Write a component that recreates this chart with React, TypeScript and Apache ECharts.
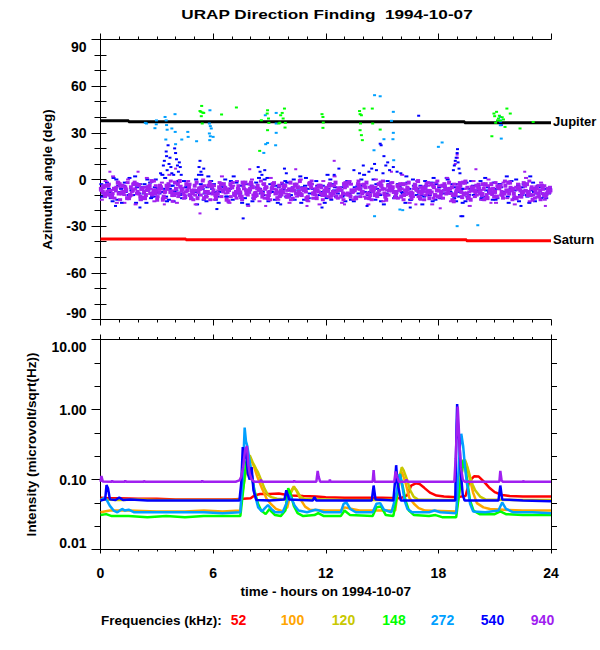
import React, { useEffect, useRef } from "react";
import * as echarts from "echarts";

// ---------- Top panel: azimuthal angle (deg) ----------
const JUPITER: number[][] = [[0, 37.8], [1.5, 37.1], [19.4, 36.5], [24, 36.5]];
const SATURN: number[][] = [[0, -38.2], [4.55, -38.7], [19.5, -39.3], [24, -39.3]];

// dense 940 kHz / 540 kHz direction-finding cloud, sampled every BAND_STEP_H hours
const BAND_STEP_H = 0.2;
const PURPLE_A_T0 = 0.02;
const PURPLE_A = [
  -6, -9, -4, -11, -7, -3, -8, -12, -5, -2, -9, -6, -10, -4, -7, -13, -5, -8, -3, -10,
  -6, -1, -9, -7, -12, -4, -8, -5, -11, -2, -7, -9, -3, -6, -14, -5, -8, -10, -4, -7,
  -2, -9, -6, -11, -5, -8, -3, -12, -7, -4, -10, -6, -9, -1, -7, -13, -5, -8, -4, -10,
  -6, -3, -9, -7, -11, -5, -2, -8, -12, -6, -4, -9, -7, -10, -3, -6, -13, -5, -8, -4,
  -11, -7, -2, -9, -6, -12, -5, -8, -3, -10, -7, -4, -9, -6, -14, -5, -8, -2, -11, -7,
  -4, -9, -6, -12, -3, -8, -5, -10, -7, -2, -9, -6, -11, -4, -8, -13, -5, -7, -10, -6,
];
const PURPLE_B_T0 = 0.12;
const PURPLE_B = [
  -8, -4, -10, -6, -2, -9, -5, -12, -7, -3, -11, -8, -5, -1, -9, -6, -13, -4, -8, -10,
  -3, -7, -11, -5, -9, -2, -6, -12, -8, -4, -10, -5, -7, -13, -3, -9, -6, -11, -2, -8,
  -5, -10, -7, -3, -12, -6, -9, -4, -8, -11, -2, -7, -5, -10, -6, -3, -9, -12, -4, -8,
  -7, -10, -2, -6, -9, -4, -11, -7, -3, -8, -5, -12, -6, -10, -2, -9, -4, -7, -11, -6,
  -3, -8, -10, -5, -1, -9, -6, -12, -4, -7, -11, -3, -8, -5, -10, -6, -2, -9, -13, -7,
  -5, -10, -3, -8, -6, -11, -4, -9, -2, -7, -12, -5, -8, -3, -10, -6, -9, -4, -11, -8,
];
const PURPLE_C_T0 = 0.07;
const PURPLE_C = [
  -13, -1, -7, 2, -15, -5, -10, 0, -8, -16, -3, -11, 1, -6, -14, -9, -2, -12, 3, -7,
  -15, -4, -10, -1, -8, -16, -5, 0, -11, -3, -13, -7, 2, -9, -15, -4, -1, -12, -6, -17,
  0, -8, -14, -3, -10, 1, -6, -13, -2, -9, -15, -5, -11, 0, -7, -14, -3, -10, -16, -1,
  -8, -12, 2, -5, -15, -9, -1, -13, -6, -3, -11, -16, -4, 0, -9, -14, -7, -2, -12, -5,
  3, -10, -15, -6, -1, -13, -8, -4, -16, -2, -11, -7, 1, -14, -9, -3, -12, -6, -17, -1,
  -8, -13, -4, 0, -10, -15, -5, -2, -12, -7, -16, -3, -9, 1, -14, -6, -11, -2, -13, -8,
];
const PURPLE_D_T0 = 0.17;
const PURPLE_D = [
  -5, -8, -11, -6, -9, -4, -7, -10, -3, -8, -6, -12, -5, -9, -7, -4, -11, -6, -8, -2,
  -9, -6, -3, -10, -7, -12, -5, -8, -4, -9, -11, -6, -3, -8, -5, -10, -7, -2, -9, -6,
  -12, -4, -8, -6, -10, -3, -7, -9, -5, -11, -7, -4, -8, -6, -12, -3, -9, -7, -5, -10,
  -4, -8, -11, -6, -3, -9, -7, -12, -5, -8, -2, -10, -6, -9, -4, -11, -7, -5, -8, -3,
  -10, -6, -12, -4, -8, -7, -3, -9, -5, -11, -8, -6, -2, -10, -7, -4, -9, -12, -5, -8,
  -6, -3, -10, -7, -11, -5, -8, -4, -9, -6, -12, -7, -3, -10, -5, -8, -11, -6, -9, -7,
];
const PURPLE_E_T0 = 0.045;
const PURPLE_E = [
  -7, -11, -3, -9, -5, -13, -8, -2, -10, -6, -4, -12, -7, -9, -1, -11, -6, -8, -4, -14,
  -9, -5, -12, -3, -7, -10, -6, -1, -8, -13, -4, -9, -11, -5, -7, -2, -12, -8, -6, -10,
  -3, -11, -7, -9, -5, -13, -2, -8, -10, -4, -6, -12, -3, -9, -7, -11, -1, -6, -8, -13,
  -5, -9, -4, -12, -7, -2, -10, -8, -6, -11, -3, -9, -13, -5, -7, -1, -10, -4, -8, -12,
  -6, -3, -9, -11, -7, -5, -13, -2, -8, -10, -4, -12, -6, -9, -3, -7, -11, -1, -8, -5,
  -10, -7, -13, -4, -9, -2, -6, -12, -8, -5, -11, -3, -9, -7, -1, -10, -6, -13, -4, -8,
];
const PURPLE_F_T0 = 0.145;
const PURPLE_F = [
  -4, -10, -7, -12, -2, -8, -6, -11, -3, -9, -13, -5, -7, -10, -4, -8, -12, -6, -1, -9,
  -11, -6, -8, -3, -13, -7, -10, -4, -9, -5, -12, -2, -8, -6, -11, -9, -4, -13, -7, -3,
  -10, -6, -1, -12, -8, -5, -9, -11, -4, -7, -13, -3, -10, -6, -8, -2, -12, -5, -9, -7,
  -11, -4, -8, -6, -13, -10, -3, -7, -1, -9, -12, -5, -8, -11, -4, -6, -10, -2, -9, -7,
  -13, -5, -8, -3, -11, -6, -10, -7, -12, -1, -9, -4, -6, -13, -8, -2, -10, -5, -7, -11,
  -3, -9, -12, -6, -8, -4, -10, -1, -7, -13, -5, -11, -2, -8, -6, -12, -4, -9, -10, -5,
];
const PURPLE_EXTRA: number[][] = [
  [5.3, -21.8], [18.1, -18.5], [2.0, 5], [0.5, 5], [7.95, 6.6], [10.4, 6.6], [12.45, 12],
  [20.0, 6.6], [19.0, 16], [19.02, 14], [18.9, 10], [4.0, 7], [15.5, 5], [22.6, 5],
  [23.7, -17], [13.0, -16], [8.8, -17], [1.3, -15], [3.4, -16], [16.8, -16], [20.8, -15], [11.0, -17],
];
const BLUE_A_T0 = 0.045;
const BLUE_A = [
  -3, -10, -6, -14, 0, -8, -4, -12, -7, 2, -9, -5, -15, -2, -11, -6, -8, 1, -13, -4,
  -7, -10, -1, -5, -12, -8, 3, -6, -14, -9, -3, -11, -5, 0, -7, -13, -2, -9, -6, -16,
  -4, -10, 1, -8, -12, -3, -6, -15, -7, -1, -11, -5, -9, 2, -13, -6, -3, -10, -8, -4,
  -12, 0, -7, -9, -5, -14, -2, -8, -11, -6, 3, -10, -4, -13, -7, -1, -9, -5, -12, -3,
  -8, -15, -6, 0, -10, -4, -11, -7, -2, -13, -5, -9, 1, -8, -12, -3, -6, -14, -10, -4,
  -7, -1, -11, -5, -9, -13, -3, -8, 2, -6, -12, -4, -10, -7, -15, -2, -9, -5, -11, -8,
];
const BLUE_B_T0 = 0.145;
const BLUE_B = [
  -9, -2, -12, -6, -4, -15, -8, 1, -10, -5, -13, -3, -7, -11, 0, -9, -6, -14, -4, -8,
  -1, -12, -5, -10, -7, -16, -3, -9, 2, -6, -13, -8, -4, -11, -1, -10, -6, -15, -3, -7,
  -12, -5, -9, 0, -14, -8, -4, -11, -6, -2, -10, -13, -7, -5, 1, -9, -12, -4, -8, -15,
  -6, -3, -11, -7, -10, -1, -13, -5, -9, -4, -12, -8, 0, -6, -14, -10, -3, -7, -11, -5,
  -9, -2, -13, -6, -8, -16, -4, -10, 1, -7, -12, -5, -9, -3, -14, -8, -6, -11, -1, -10,
  -4, -13, -7, -9, -2, -12, -5, -8, -15, -6, 0, -10, -3, -11, -7, -14, -4, -9, -12, -6,
];
const BLUE_C_T0 = 0.095;
const BLUE_C = [
  -11, -4, -8, 1, -13, -6, -2, -10, -7, -15, -3, -9, 0, -12, -5, -8, 3, -11, -6, -14,
  -2, -9, -12, -4, -7, 0, -10, -13, -5, -1, -8, -15, -3, -11, -6, 2, -9, -4, -12, -7,
  -14, -2, -6, -10, 1, -8, -13, -5, -3, -11, -7, 0, -9, -15, -4, -12, -6, -1, -10, -8,
  3, -13, -5, -7, -11, -2, -9, -14, -4, 0, -8, -12, -6, -3, -10, -16, -1, -7, -11, -5,
  -9, 2, -13, -4, -6, -10, -1, -8, -14, -3, -12, -7, 0, -9, -5, -11, -15, -2, -6, -10,
  -4, -12, 1, -8, -13, -6, -3, -9, -11, -1, -7, -14, -5, -10, 2, -8, -4, -12, -6, -9,
];
const BLUE_EXTRA: number[][] = [
  [3.35, 9], [3.4, 12], [3.5, 18], [3.52, 15], [3.55, 6], [3.6, 22], [3.65, 10], [3.7, 14],
  [3.75, 8], [3.8, 4], [3.95, 20], [4.0, 17], [4.05, 13], [4.1, 9], [4.15, 5], [4.25, 8],
  [4.3, 3], [4.2, 11], [5.25, 8], [5.3, 12], [5.35, 5], [5.4, 3], [5.5, 7],
  [8.4, 8], [8.5, 5], [8.6, 3], [8.75, 6], [9.8, 7], [9.9, 4], [12.7, 7], [12.45, 3],
  [13.5, 6], [13.8, 4], [14.0, 9], [14.3, 5], [14.6, 10], [14.7, 6], [14.9, 23], [14.95, 22],
  [15.1, 15], [15.2, 9], [15.3, 11], [15.4, 6], [15.6, 8], [15.8, 5], [16.0, 4], [15.05, 4],
  [14.45, 7], [16.95, 41], [18.8, 6], [18.85, 9], [18.9, 12], [18.95, 14], [19.0, 17],
  [19.02, 19.5], [19.05, 11], [19.1, 7], [19.15, 4], [7.6, -25], [19.2, -23.6], [19.3, -23.6],
  [11.8, -18], [6.2, -19], [2.1, -18], [16.5, -18], [22.4, -17], [14.2, -17], [9.6, -16],
  [0.8, -17], [21.3, 37], [21.35, 35], [3.2, 4], [3.9, 3],
];
const LIGHTBLUE_PTS: number[][] = [
  [2.39, 36.4], [2.45, 36], [2.97, 35.5], [2.98, 38], [2.9, 33], [3.44, 40.2], [3.5, 38],
  [3.52, 35], [3.55, 32], [3.97, 42], [3.98, 30.6], [3.8, 32.8], [4.65, 30.6], [4.67, 27.4],
  [3.48, 25.7], [4.0, 22.7], [4.33, 25.7], [5.12, 24.6], [5.83, 44.5], [5.8, 36], [5.85, 34.3],
  [5.9, 32.8], [5.8, 29.6], [5.85, 27.8], [6.0, 27.4], [5.82, 25.3], [8.78, 41.3], [9.36, 42.8],
  [9.36, 36], [9.36, 30], [8.9, 23.5], [8.8, 22.7], [8.7, 17.1], [9.33, 22], [14.6, 54.2],
  [14.9, 53.5], [15.6, 43.5], [15.5, 37.7], [15.6, 30], [15.58, 25.9], [15.1, 25.9],
  [14.57, 18.8], [15.62, 12.4], [18.0, 21], [18.2, 23.8], [21.3, 40.2], [21.32, 38],
  [21.3, 34.9], [21.35, 26.3], [15.95, -19.3], [14.6, -23.6], [19.0, -30], [20.1, -29.4],
  [16.1, -19.7],
];
const GREEN_PTS: number[][] = [
  [5.39, 47.3], [5.3, 44], [5.35, 43.5], [5.45, 43], [5.5, 42.8], [5.37, 40.7], [6.45, 41.8],
  [7.24, 46.3], [5.42, 36], [8.57, 38.1], [8.9, 44.5], [8.88, 42.4], [8.95, 39.2], [8.97, 36.4],
  [8.9, 31.7], [9.6, 41.3], [9.68, 42.8], [9.73, 39.2], [9.8, 45.6], [9.85, 36.4], [9.55, 36.5],
  [9.5, 36], [9.83, 33.4], [8.48, 18.4], [11.8, 42], [11.85, 40.2], [11.87, 36.6], [11.85, 33.2],
  [13.8, 44], [13.83, 42], [13.9, 41.3], [14.04, 45.6], [14.48, 45.6], [13.85, 36], [13.83, 31.7],
  [13.9, 28.5], [13.95, 25.3], [14.5, 36], [14.9, 32.1], [20.96, 42.4], [21.1, 43.5], [21.0, 40.7],
  [21.2, 39.2], [21.3, 37.7], [21.47, 38.6], [21.65, 45.6], [21.83, 42.4], [21.55, 33.8],
  [20.85, 27.8], [22.35, 32.8], [23.05, 37], [21.25, 41], [21.4, 40], [21.15, 38], [21.05, 36.5],
];

// ---------- Bottom panel: intensity (microvolt/sqrt(Hz)) ----------
const FREQ_KHZ = ["52", "100", "120", "148", "272", "540", "940"];
const FREQ_COLORS = ["#ff0000", "#ffa500", "#c8c800", "#00ff00", "#00a0ff", "#0000ff", "#a020f0"];

const I_52: number[][] = [
  [0, 0.055], [0.4, 0.054], [1.0, 0.054], [2.0, 0.053], [3.0, 0.053], [4.0, 0.052], [5.0, 0.052],
  [6.0, 0.052], [7.0, 0.052], [7.6, 0.053], [8.0, 0.054], [8.2, 0.059], [8.5, 0.062], [9.0, 0.062],
  [9.5, 0.063], [9.8, 0.061], [10.2, 0.059], [10.8, 0.058], [11.5, 0.057], [12.0, 0.056],
  [13.0, 0.055], [14.0, 0.055], [15.0, 0.055], [16.0, 0.054], [16.35, 0.06], [16.55, 0.082],
  [16.8, 0.088], [17.0, 0.086], [17.25, 0.076], [17.55, 0.065], [17.9, 0.059], [18.3, 0.057],
  [19.0, 0.056], [19.45, 0.058], [19.65, 0.095], [19.9, 0.111], [20.15, 0.11], [20.4, 0.095],
  [20.7, 0.077], [21.0, 0.066], [21.4, 0.06], [21.8, 0.058], [22.5, 0.057], [23.2, 0.057], [24, 0.057],
];
const I_100: number[][] = [
  [0, 0.034], [0.5, 0.036], [1.5, 0.036], [3, 0.035], [4.5, 0.035], [5.5, 0.036], [6.5, 0.035],
  [7.45, 0.036], [7.6, 0.08], [7.8, 0.17], [7.95, 0.21], [8.15, 0.16], [8.35, 0.11], [8.6, 0.075],
  [8.85, 0.053], [9.1, 0.044], [9.35, 0.038], [9.7, 0.035], [9.95, 0.04], [10.15, 0.068],
  [10.3, 0.08], [10.45, 0.068], [10.7, 0.05], [10.9, 0.041], [11.15, 0.037], [12.0, 0.036],
  [12.8, 0.036], [13.0, 0.04], [13.4, 0.038], [13.8, 0.036], [15.0, 0.036], [15.7, 0.036],
  [15.85, 0.07], [16.05, 0.13], [16.25, 0.09], [16.45, 0.055], [16.7, 0.045], [16.95, 0.039],
  [17.3, 0.036], [18.95, 0.035], [19.1, 0.06], [19.3, 0.16], [19.45, 0.18], [19.65, 0.11],
  [19.85, 0.065], [20.05, 0.046], [20.4, 0.04], [20.75, 0.038], [21.5, 0.037], [22.5, 0.036], [24, 0.036],
];
const I_120: number[][] = [
  [0, 0.052], [1, 0.051], [2, 0.052], [3, 0.051], [4, 0.051], [5, 0.051], [6, 0.051], [7, 0.051],
  [7.5, 0.052], [7.65, 0.09], [7.8, 0.16], [7.95, 0.222], [8.1, 0.178], [8.3, 0.14], [8.4, 0.125],
  [8.56, 0.098], [8.74, 0.074], [8.92, 0.06], [9.1, 0.056], [9.4, 0.053], [10.0, 0.052],
  [10.15, 0.065], [10.3, 0.078], [10.45, 0.07], [10.65, 0.057], [10.85, 0.053], [12, 0.052],
  [13, 0.051], [14, 0.051], [15, 0.051], [15.75, 0.052], [15.9, 0.1], [16.05, 0.15], [16.15, 0.135],
  [16.34, 0.098], [16.5, 0.07], [16.69, 0.0565], [16.9, 0.052], [18, 0.051], [19.0, 0.051],
  [19.15, 0.12], [19.3, 0.185], [19.42, 0.19], [19.55, 0.15], [19.69, 0.109], [19.82, 0.085],
  [19.96, 0.07], [20.22, 0.057], [20.5, 0.052], [22, 0.051], [24, 0.051],
];
const I_148: number[][] = [
  [0, 0.031], [0.3, 0.032], [0.6, 0.03], [1.5, 0.03], [2.5, 0.029], [3.5, 0.03], [4.5, 0.029],
  [5.5, 0.03], [6.5, 0.03], [7.45, 0.03], [7.6, 0.07], [7.75, 0.17], [7.85, 0.21], [7.95, 0.17],
  [8.05, 0.12], [8.2, 0.07], [8.39, 0.045], [8.56, 0.036], [8.8, 0.032], [9.0, 0.038], [9.1, 0.035],
  [9.3, 0.031], [9.6, 0.03], [9.85, 0.036], [10.0, 0.075], [10.15, 0.06], [10.3, 0.042], [10.5, 0.033],
  [10.8, 0.03], [11.4, 0.031], [11.6, 0.033], [11.9, 0.03], [12.8, 0.03], [13.0, 0.036], [13.3, 0.031],
  [14.5, 0.03], [14.7, 0.04], [14.95, 0.041], [15.2, 0.031], [15.6, 0.03], [15.75, 0.05], [15.95, 0.12],
  [16.1, 0.08], [16.25, 0.05], [16.43, 0.036], [16.7, 0.031], [17.5, 0.03], [17.85, 0.031],
  [18.2, 0.029], [18.95, 0.029], [19.15, 0.08], [19.34, 0.19], [19.45, 0.14], [19.55, 0.09],
  [19.69, 0.05], [19.87, 0.036], [20.2, 0.032], [21.0, 0.032], [21.3, 0.035], [21.6, 0.032],
  [22.5, 0.031], [24, 0.031],
];
const I_272: number[][] = [
  [0, 0.05], [0.2, 0.055], [0.35, 0.05], [0.5, 0.042], [0.7, 0.036], [0.9, 0.034], [1.15, 0.038],
  [1.3, 0.036], [1.5, 0.037], [1.8, 0.034], [3, 0.034], [4.5, 0.034], [5.5, 0.034], [6.5, 0.033],
  [7.45, 0.034], [7.58, 0.12], [7.68, 0.55], [7.75, 0.35], [7.82, 0.3], [7.9, 0.22], [7.98, 0.16],
  [8.1, 0.1], [8.21, 0.063], [8.4, 0.04], [8.6, 0.035], [8.8, 0.04], [8.92, 0.043], [9.1, 0.038],
  [9.3, 0.034], [9.7, 0.034], [9.9, 0.045], [10.05, 0.06], [10.2, 0.052], [10.35, 0.042],
  [10.55, 0.036], [11.0, 0.034], [11.45, 0.037], [11.65, 0.036], [11.9, 0.034], [12.8, 0.034],
  [12.95, 0.045], [13.1, 0.047], [13.3, 0.038], [13.6, 0.034], [14.5, 0.034], [14.7, 0.045],
  [14.9, 0.046], [15.1, 0.037], [15.5, 0.034], [15.75, 0.06], [15.95, 0.12], [16.08, 0.08],
  [16.2, 0.05], [16.35, 0.038], [16.6, 0.034], [17.5, 0.034], [17.8, 0.036], [18.1, 0.034],
  [18.95, 0.033], [19.05, 0.1], [19.15, 0.3], [19.22, 0.45], [19.32, 0.3], [19.42, 0.15],
  [19.52, 0.088], [19.69, 0.045], [19.85, 0.035], [20.5, 0.034], [21.2, 0.036], [21.4, 0.047],
  [21.6, 0.038], [22.0, 0.034], [23, 0.034], [24, 0.033],
];
const I_540: number[][] = [
  [0, 0.05], [0.25, 0.052], [0.32, 0.083], [0.4, 0.075], [0.5, 0.052], [0.8, 0.051], [1.0, 0.055],
  [1.2, 0.051], [1.6, 0.052], [2.5, 0.05], [4, 0.05], [5.5, 0.05], [6.5, 0.05], [7.4, 0.05],
  [7.5, 0.09], [7.58, 0.29], [7.66, 0.2], [7.75, 0.25], [7.85, 0.12], [7.95, 0.1], [8.05, 0.15],
  [8.15, 0.07], [8.3, 0.051], [9.0, 0.05], [9.8, 0.052], [9.9, 0.07], [10.05, 0.052], [11.3, 0.05],
  [11.4, 0.056], [11.5, 0.05], [14.45, 0.05], [14.55, 0.082], [14.65, 0.052], [15.6, 0.05],
  [15.7, 0.1], [15.75, 0.16], [15.82, 0.09], [15.9, 0.07], [16.0, 0.05], [18.9, 0.05],
  [18.97, 0.6], [19.0, 1.2], [19.05, 0.5], [19.12, 0.35], [19.2, 0.12], [19.3, 0.06], [19.4, 0.05],
  [21.2, 0.05], [21.3, 0.082], [21.4, 0.052], [22.5, 0.05], [24, 0.049],
];
const I_940: number[][] = [
  [0, 0.093], [0.05, 0.112], [0.12, 0.094], [0.6, 0.093], [0.62, 0.097], [0.65, 0.093], [1.3, 0.093],
  [1.32, 0.097], [1.35, 0.093], [2.3, 0.093], [2.32, 0.096], [2.35, 0.093], [5.4, 0.093],
  [5.42, 0.097], [5.45, 0.093], [7.2, 0.093], [7.4, 0.097], [7.5, 0.11], [7.6, 0.15], [7.7, 0.26],
  [7.8, 0.3], [7.88, 0.16], [7.95, 0.12], [8.05, 0.1], [8.2, 0.093], [8.5, 0.093], [8.55, 0.099],
  [8.6, 0.093], [10.3, 0.093], [10.32, 0.097], [10.35, 0.093], [11.5, 0.093], [11.57, 0.133],
  [11.62, 0.11], [11.7, 0.093], [12.2, 0.093], [12.22, 0.1], [12.25, 0.093], [14.5, 0.093],
  [14.55, 0.136], [14.6, 0.093], [15.65, 0.093], [15.72, 0.13], [15.8, 0.11], [15.9, 0.093],
  [16.25, 0.093], [16.3, 0.1], [16.35, 0.093], [18.85, 0.093], [18.92, 0.2], [18.98, 0.5],
  [19.03, 1.1], [19.08, 0.6], [19.13, 0.3], [19.2, 0.15], [19.3, 0.1], [19.4, 0.093],
  [21.25, 0.093], [21.3, 0.133], [21.36, 0.1], [21.42, 0.093], [22.5, 0.093], [22.52, 0.096],
  [22.55, 0.093], [24, 0.093],
];
const INTENSITY = [I_52, I_100, I_120, I_148, I_272, I_540, I_940];

const HOUR_MIN = 0;
const HOUR_MAX = 24;
const HOUR_STEP = 6;

const FONT = "'Liberation Sans', Arial, Helvetica, sans-serif";
const TXT = { color: "#000", fontFamily: FONT, fontWeight: "bold" as const };

const sampled = (t0: number, vals: number[]) => vals.map((v, i) => [t0 + i * BAND_STEP_H, v]);

function hourAxis(gridIndex: number, position: string, major: number, minor: number, labels: boolean, name?: string) {
  return {
    type: "value",
    gridIndex,
    position,
    min: HOUR_MIN,
    max: HOUR_MAX,
    interval: HOUR_STEP,
    name: name || "",
    nameLocation: "middle",
    nameGap: 35,
    nameTextStyle: { ...TXT, fontSize: 13.5 },
    axisLine: { show: true, onZero: false, lineStyle: { color: "#000", width: 1 } },
    axisTick: { show: true, inside: false, length: major, lineStyle: { color: "#000", width: 1 } },
    minorTick: { show: true, splitNumber: 6, length: minor, lineStyle: { color: "#000", width: 1 } },
    splitLine: { show: false },
    minorSplitLine: { show: false },
    axisLabel: { show: labels, ...TXT, fontSize: 14, margin: 16 },
  };
}

function buildOption() {
  const scatter = (data: number[][], color: string, size: number[]) => ({
    type: "scatter",
    xAxisIndex: 0,
    yAxisIndex: 0,
    data,
    symbol: "rect",
    symbolSize: size,
    itemStyle: { color, opacity: 1 },
    silent: true,
    z: 3,
  });

  const text = (x: number, y: number, t: string, fill: string, align: string, size = 13.5, scaleX = 1) => ({
    type: "text",
    x,
    y,
    scaleX,
    silent: true,
    style: { text: t, fill, fontSize: size, fontFamily: FONT, fontWeight: "bold", align, verticalAlign: "middle" },
  });

  const legendX = [238.5, 292.5, 343.5, 394, 442.5, 492.5, 542.5];

  return {
    animation: false,
    backgroundColor: "#ffffff",
    grid: [
      { left: 100.5, top: 39.5, width: 450.5, height: 280 },
      { left: 100.5, top: 339.5, width: 450.5, height: 210 },
    ],
    xAxis: [
      hourAxis(0, "bottom", 6, 3, false),
      hourAxis(0, "top", 6, 3, false),
      hourAxis(1, "bottom", 4, 2, true, "time - hours on 1994-10-07"),
      hourAxis(1, "top", 5, 2.5, false),
    ],
    yAxis: [
      {
        type: "value",
        gridIndex: 0,
        position: "left",
        min: -90,
        max: 90,
        interval: 30,
        name: "Azimuthal angle (deg)",
        nameLocation: "middle",
        nameGap: 46,
        nameTextStyle: { ...TXT, fontSize: 13.5 },
        axisLine: { show: true, lineStyle: { color: "#000", width: 1 } },
        axisTick: { show: true, inside: false, length: 9, lineStyle: { color: "#000" } },
        minorTick: { show: true, splitNumber: 3, length: 6, lineStyle: { color: "#000" } },
        splitLine: { show: false },
        axisLabel: {
          ...TXT,
          fontSize: 14,
          margin: 14,
          verticalAlignMaxLabel: "top",
          verticalAlignMinLabel: "bottom",
        },
      },
      {
        type: "value",
        gridIndex: 0,
        position: "right",
        min: -90,
        max: 90,
        interval: 30,
        axisLine: { show: true, lineStyle: { color: "#000", width: 1 } },
        axisTick: { show: true, inside: false, length: 6, lineStyle: { color: "#000" } },
        minorTick: { show: true, splitNumber: 3, length: 6, lineStyle: { color: "#000" } },
        splitLine: { show: false },
        axisLabel: { show: false },
      },
      {
        type: "log",
        logBase: 10,
        gridIndex: 1,
        position: "left",
        min: 0.01,
        max: 10,
        name: "Intensity (microvolt/sqrt(Hz))",
        nameLocation: "middle",
        nameGap: 62,
        nameTextStyle: { ...TXT, fontSize: 13.5 },
        axisLine: { show: true, lineStyle: { color: "#000", width: 1 } },
        axisTick: { show: true, inside: false, length: 9, lineStyle: { color: "#000" } },
        splitLine: { show: false },
        axisLabel: {
          ...TXT,
          fontSize: 14,
          margin: 14,
          formatter: (v: number) => v.toFixed(2),
          verticalAlignMaxLabel: "top",
          verticalAlignMinLabel: "bottom",
        },
      },
      {
        // third-of-a-decade minor ticks on the left log axis
        type: "value",
        gridIndex: 1,
        position: "left",
        min: -6,
        max: 3,
        interval: 1,
        axisLine: { show: false },
        axisTick: { show: true, inside: false, length: 6, lineStyle: { color: "#000" } },
        splitLine: { show: false },
        axisLabel: { show: false },
      },
      {
        type: "value",
        gridIndex: 1,
        position: "right",
        min: -6,
        max: 3,
        interval: 1,
        axisLine: { show: true, lineStyle: { color: "#000", width: 1 } },
        axisTick: { show: true, inside: false, length: 6, lineStyle: { color: "#000" } },
        splitLine: { show: false },
        axisLabel: { show: false },
      },
    ],
    series: [
      {
        type: "line",
        xAxisIndex: 0,
        yAxisIndex: 0,
        data: JUPITER,
        step: "end",
        symbol: "none",
        lineStyle: { color: "#000", width: 3 },
        silent: true,
        z: 2,
      },
      {
        type: "line",
        xAxisIndex: 0,
        yAxisIndex: 0,
        data: SATURN,
        step: "end",
        symbol: "none",
        lineStyle: { color: "#ff0000", width: 3 },
        silent: true,
        z: 2,
      },
      scatter(sampled(BLUE_A_T0, BLUE_A), FREQ_COLORS[5], [4, 2]),
      scatter(sampled(BLUE_B_T0, BLUE_B), FREQ_COLORS[5], [4, 2]),
      scatter(sampled(BLUE_C_T0, BLUE_C), FREQ_COLORS[5], [4, 2]),
      scatter(sampled(PURPLE_A_T0, PURPLE_A), FREQ_COLORS[6], [4, 4]),
      scatter(sampled(PURPLE_B_T0, PURPLE_B), FREQ_COLORS[6], [4, 4]),
      scatter(sampled(PURPLE_C_T0, PURPLE_C), FREQ_COLORS[6], [4, 2]),
      scatter(sampled(PURPLE_D_T0, PURPLE_D), FREQ_COLORS[6], [4, 4]),
      scatter(sampled(PURPLE_E_T0, PURPLE_E), FREQ_COLORS[6], [4, 3]),
      scatter(sampled(PURPLE_F_T0, PURPLE_F), FREQ_COLORS[6], [4, 3]),
      scatter(PURPLE_EXTRA, FREQ_COLORS[6], [3, 2]),
      scatter(BLUE_EXTRA, FREQ_COLORS[5], [3, 2]),
      scatter(LIGHTBLUE_PTS, FREQ_COLORS[4], [3, 2]),
      scatter(GREEN_PTS, FREQ_COLORS[3], [3, 2]),
      ...INTENSITY.map((d, i) => ({
        type: "line",
        name: FREQ_KHZ[i],
        xAxisIndex: 2,
        yAxisIndex: 2,
        data: d,
        symbol: "none",
        lineStyle: { color: FREQ_COLORS[i], width: 2.5 },
        silent: true,
        z: 2 + i * 0.1,
      })),
    ],
    graphic: [
      text(327, 14, "URAP Direction Finding  1994-10-07", "#000", "center", 13, 1.32),
      text(553, 121, "Jupiter", "#000", "left", 13),
      text(553, 239.5, "Saturn", "#000", "left", 13),
      text(101, 620, "Frequencies (kHz):", "#000", "left"),
      ...FREQ_KHZ.map((f, i) => text(legendX[i], 620, f, FREQ_COLORS[i], "center", 14)),
    ],
  };
}

export default function App() {
  const ref = useRef<HTMLDivElement>(null);
  useEffect(() => {
    if (!ref.current) return;
    const chart = echarts.init(ref.current, null, { renderer: "svg" });
    chart.setOption(buildOption() as any);
    return () => chart.dispose();
  }, []);
  return (
    <div
      ref={ref}
      style={{ position: "absolute", left: 0, top: 0, width: 600, height: 650, background: "#fff" }}
    />
  );
}
